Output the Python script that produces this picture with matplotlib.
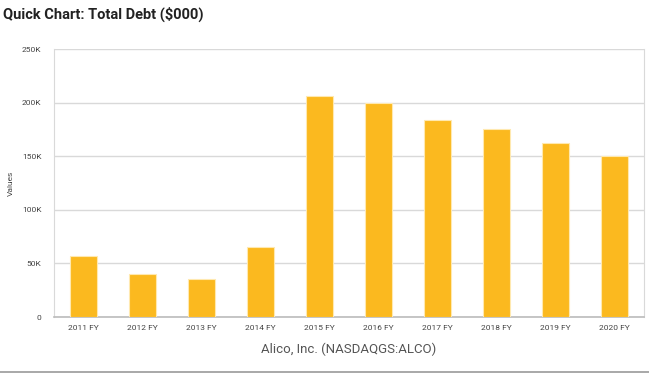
import matplotlib
matplotlib.use('Agg')
import matplotlib.pyplot as plt
from matplotlib.ticker import FuncFormatter

years = ['2011 FY', '2012 FY', '2013 FY', '2014 FY', '2015 FY',
         '2016 FY', '2017 FY', '2018 FY', '2019 FY', '2020 FY']
total_debt = [56700, 39900, 35500, 65700, 205800,
              199800, 184000, 175000, 162000, 150300]
y_ticks = [0, 50000, 100000, 150000, 200000, 250000]

plt.rcParams['font.family'] = ['Roboto', 'DejaVu Sans']

fig = plt.figure(figsize=(6.49, 3.74), dpi=100)
ax = fig.add_axes([54 / 649, 1 - 317 / 374, 590 / 649, 268 / 374])

x = list(range(len(years)))
ax.bar(x, total_debt, width=0.47, color='#FBB91F', edgecolor='#FFE9B0',
       linewidth=0.8, zorder=3)

ax.set_xlim(-0.5, len(years) - 0.5)
ax.set_ylim(0, 250000)
ax.set_yticks(y_ticks)
ax.yaxis.set_major_formatter(FuncFormatter(lambda v, p: '0' if v == 0 else f'{int(v / 1000)}K'))
ax.set_xticks(x)
ax.set_xticklabels(years)
ax.tick_params(axis='both', length=0, labelsize=6, colors='#444444')
ax.tick_params(axis='x', pad=6)
ax.tick_params(axis='y', pad=9)
ax.grid(axis='y', color='#D9D9D9', linewidth=1, zorder=0)

ax.spines['top'].set_visible(False)
ax.spines['left'].set_color('#D9D9D9')
ax.spines['right'].set_color('#D9D9D9')
ax.spines['bottom'].set_color('#BBBBBB')
ax.spines['bottom'].set_linewidth(1.2)

ax.set_ylabel('Values', fontsize=6, color='#444444')
ax.yaxis.set_label_coords((14 - 54) / 590, 0.5)
ax.set_xlabel('Alico, Inc. (NASDAQGS:ALCO)', fontsize=9.5, color='#555555', labelpad=8)

fig.text(3 / 649, 1 - 14 / 374, 'Quick Chart: Total Debt ($000)', fontsize=10.5,
         fontweight='bold', color='#222222', va='center', ha='left')
fig.add_artist(plt.Line2D([0, 1], [1 - 372 / 374] * 2, color='#999999', linewidth=1.2,
                          transform=fig.transFigure))

fig.savefig('out.png', dpi=100)
